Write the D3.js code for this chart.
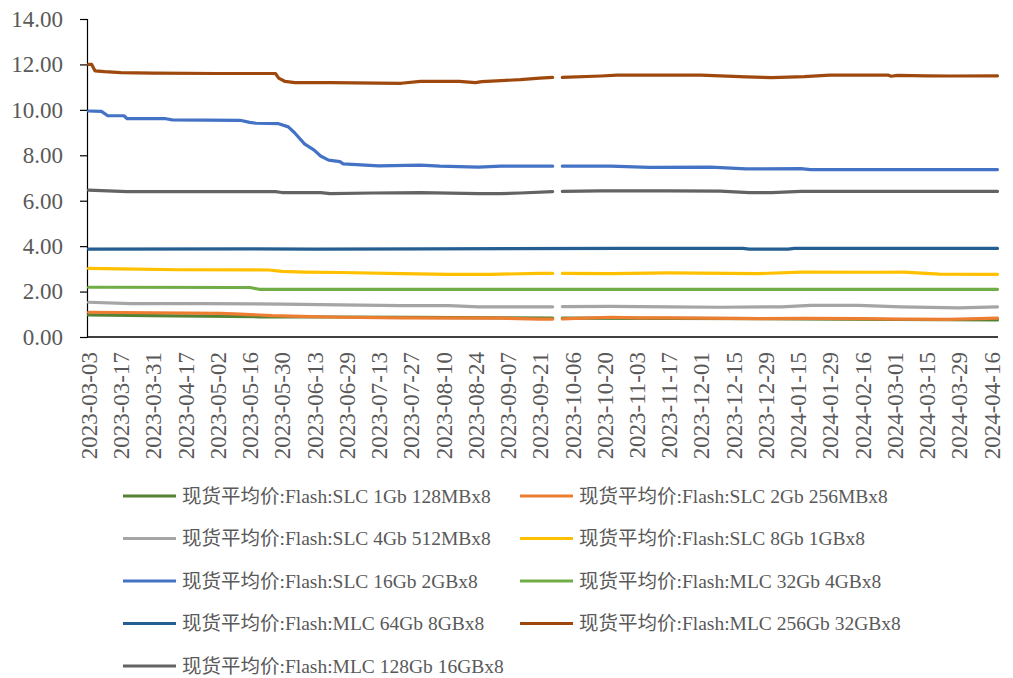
<!DOCTYPE html>
<html><head><meta charset="utf-8">
<script src="https://cdn.jsdelivr.net/npm/d3@7"></script>
<style>
html,body{margin:0;padding:0;background:#fff;}
svg{display:block;}
text{font-family:"Liberation Serif","Noto Sans CJK SC",serif;fill:#595959;}
</style></head><body>
<svg id="chart" width="1013" height="678"></svg>
<script>
// x tick labels (every 10th trading day)
const tickLabels = ["2023-03-03","2023-03-17","2023-03-31","2023-04-17","2023-05-02","2023-05-16","2023-05-30","2023-06-13","2023-06-29","2023-07-13","2023-07-27","2023-08-10","2023-08-24","2023-09-07","2023-09-21","2023-10-06","2023-10-20","2023-11-03","2023-11-17","2023-12-01","2023-12-15","2023-12-29","2024-01-15","2024-01-29","2024-02-16","2024-03-01","2024-03-15","2024-03-29","2024-04-16"];
const tickStep = 10;
const lastIndex = 282;
const yTicks = [0,2,4,6,8,10,12,14];

const seriesNames = [
 "现货平均价:Flash:SLC 1Gb 128MBx8",
 "现货平均价:Flash:SLC 2Gb 256MBx8",
 "现货平均价:Flash:SLC 4Gb 512MBx8",
 "现货平均价:Flash:SLC 8Gb 1GBx8",
 "现货平均价:Flash:SLC 16Gb 2GBx8",
 "现货平均价:Flash:MLC 32Gb 4GBx8",
 "现货平均价:Flash:MLC 64Gb 8GBx8",
 "现货平均价:Flash:MLC 256Gb 32GBx8",
 "现货平均价:Flash:MLC 128Gb 16GBx8"
];
const seriesColors = ["#548235","#ED7D31","#A5A5A5","#FFC000","#4472C4","#70AD47","#255E91","#9E480E","#636363"];

// [trading-day index, value]; null = missing
const slc1Gb = [[0,0.97],[19,0.94],[44,0.91],[53,0.89],[78,0.88],[100,0.86],[128,0.84],[144,0.83],[145,null],[146,null],[147,0.83],[180,0.82],[220,0.80],[250,0.77],[282,0.75]];
const slc2Gb = [[0,1.09],[41,1.04],[47,1.01],[57,0.94],[66,0.91],[78,0.87],[97,0.84],[128,0.83],[140,0.79],[144,0.79],[145,null],[146,null],[147,0.80],[162,0.87],[171,0.84],[180,0.84],[208,0.81],[222,0.82],[240,0.81],[252,0.79],[267,0.78],[282,0.83]];
const slc4Gb = [[0,1.53],[13,1.47],[35,1.47],[60,1.45],[78,1.41],[97,1.38],[112,1.38],[121,1.33],[144,1.33],[145,null],[146,null],[147,1.34],[162,1.35],[180,1.33],[196,1.31],[215,1.33],[224,1.39],[239,1.39],[252,1.33],[270,1.28],[282,1.33]];
const slc8Gb = [[0,3.02],[10,3.00],[28,2.96],[56,2.95],[60,2.89],[67,2.86],[78,2.84],[97,2.79],[112,2.76],[125,2.76],[140,2.80],[144,2.80],[145,null],[146,null],[147,2.80],[162,2.79],[180,2.82],[208,2.79],[221,2.86],[245,2.85],[253,2.86],[264,2.77],[282,2.76]];
const slc16Gb = [[0,9.95],[4,9.93],[6,9.74],[11,9.74],[12,9.61],[24,9.61],[26,9.56],[47,9.54],[50,9.45],[52,9.41],[59,9.39],[62,9.25],[64,8.98],[67,8.50],[70,8.23],[72,7.97],[74.5,7.79],[78,7.72],[79,7.62],[90,7.53],[103,7.57],[109,7.52],[121,7.48],[128,7.52],[144,7.52],[145,null],[146,null],[147,7.52],[162,7.52],[174,7.47],[193,7.48],[204,7.40],[221,7.41],[224,7.37],[282,7.37]];
const mlc32Gb = [[0,2.19],[50,2.18],[53,2.10],[282,2.10]];
const mlc64Gb = [[0,3.87],[50,3.88],[70,3.87],[105,3.88],[166,3.90],[203,3.90],[205,3.87],[217,3.87],[219,3.90],[282,3.90]];
const mlc256Gb = [[0,12.00],[1,12.00],[2,11.72],[5,11.68],[10,11.64],[20,11.62],[40,11.60],[58,11.60],[59,11.40],[61,11.25],[64,11.20],[75,11.20],[97,11.17],[103,11.25],[115,11.25],[120,11.20],[122,11.24],[128,11.29],[134,11.33],[140,11.40],[144,11.43],[145,null],[146,null],[147,11.43],[159,11.49],[164,11.53],[190,11.53],[204,11.45],[212,11.42],[222,11.46],[230,11.53],[248,11.53],[249,11.48],[251,11.52],[260,11.50],[267,11.49],[282,11.50]];
const mlc128Gb = [[0,6.47],[12,6.40],[58,6.40],[60,6.36],[72,6.36],[75,6.31],[88,6.34],[103,6.36],[121,6.31],[128,6.31],[134,6.34],[144,6.40],[145,null],[146,null],[147,6.41],[159,6.43],[180,6.43],[196,6.42],[205,6.36],[212,6.36],[221,6.41],[282,6.41]];

const seriesData = [slc1Gb, slc2Gb, slc4Gb, slc8Gb, slc16Gb, mlc32Gb, mlc64Gb, mlc256Gb, mlc128Gb];

const svg = d3.select("#chart");
const x = d3.scaleLinear().domain([0, lastIndex]).range([88.5, 997.5]);
const y = d3.scaleLinear().domain([0, 14]).range([337, 19]);

// y axis
const yAxis = svg.append("g").attr("transform","translate(87,0)")
  .call(d3.axisLeft(y).tickValues(yTicks).tickFormat(d3.format(".2f")).tickSize(7).tickPadding(17));
yAxis.select(".domain").attr("stroke","#000").attr("stroke-width",1.2);
yAxis.selectAll(".tick line").attr("stroke","#000").attr("stroke-width",1.2);
yAxis.selectAll(".tick text").attr("font-size","23px").attr("fill","#595959")
  .style("font-family",'"Liberation Serif","Noto Sans CJK SC",serif');

// x axis (line + rotated labels)
const xAxis = svg.append("g").attr("transform","translate(0,337)")
  .call(d3.axisBottom(x).tickValues(tickLabels.map((d,i)=>i*tickStep)).tickSize(0).tickFormat(""));
xAxis.select(".domain").attr("stroke","#000").attr("stroke-width",1.5)
  .attr("d", `M${x(0)-1.5},0H${x(lastIndex)+0.5}`);
svg.append("g").selectAll("text").data(tickLabels).join("text")
  .attr("transform",(d,i)=>`translate(${x(i*tickStep)+1},352) rotate(-90)`)
  .attr("text-anchor","end").attr("dominant-baseline","central")
  .attr("font-size","23px").text(d=>d);

// lines
const line = d3.line().defined(d=>d[1]!==null).x(d=>x(d[0])).y(d=>y(d[1]));
svg.append("g").selectAll("path").data(seriesData).join("path")
  .attr("d", line).attr("fill","none")
  .attr("stroke",(d,i)=>seriesColors[i]).attr("stroke-width",3.2)
  .attr("stroke-linejoin","round").attr("stroke-linecap","round");

// legend
const legend = svg.append("g");
const colX = [123, 520], rowY0 = 496, rowH = 42.5;
seriesNames.forEach((name,i)=>{
  const cx = colX[i%2], cy = rowY0 + Math.floor(i/2)*rowH;
  legend.append("line").attr("x1",cx).attr("x2",cx+53).attr("y1",cy).attr("y2",cy)
    .attr("stroke",seriesColors[i]).attr("stroke-width",3.2);
  legend.append("text").attr("x",cx+59).attr("y",cy).attr("dominant-baseline","central")
    .attr("font-size","19.5px").text(name);
});
</script>
</body></html>
